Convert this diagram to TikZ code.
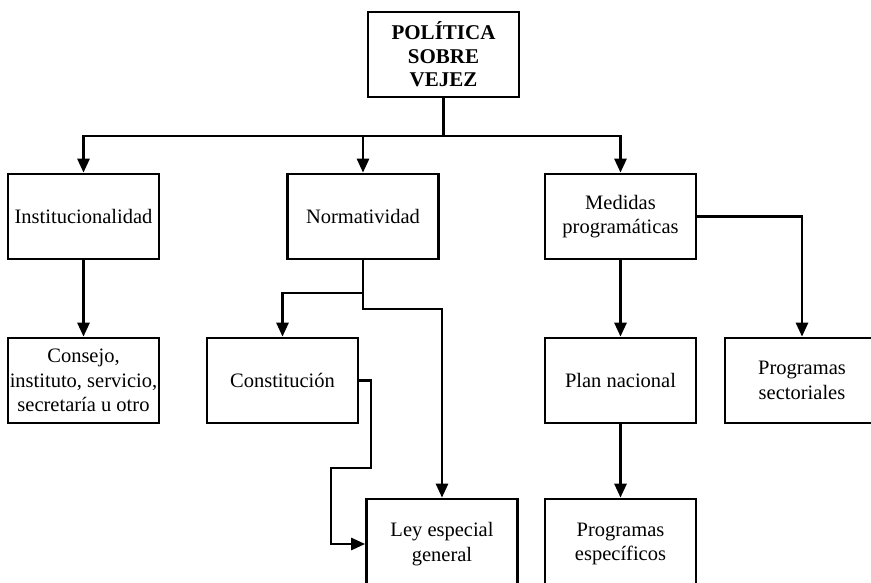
\documentclass[tikz,border=0pt]{standalone}
\usepackage{fontspec}
\setmainfont{Liberation Serif}
\usetikzlibrary{arrows.meta,positioning}

\begin{document}
\begin{tikzpicture}[x=1pt, y=-1pt, >={Triangle[length=14pt,width=12pt]}, line width=2.7pt, node distance=164pt,
    box/.style={draw, rectangle, align=center, inner sep=0pt, minimum width=151pt, minimum height=85pt,
                font=\fontsize{20.5}{24.5}\selectfont},
    lowbox/.style={box, minimum height=90pt}]
    \useasboundingbox (0,0) rectangle (871,583);
    \clip (0,0) rectangle (871,583);

    % Nodes {top level, second level, lower boxes}
    \node [box, font=\bfseries\fontsize{21}{23.5}\selectfont] (pol) at (443.5,54.5) {POLÍTICA\\SOBRE\\VEJEZ};
    \node [box]                      (inst)  at (83.5,216.5)   {Institucionalidad};
    \node [box]                      (norm)  at (363,216.5)    {Normatividad};
    \node [box]                      (med)   at (620.5,216.5)  {Medidas\\programáticas};
    \node [box]                      (cons)  [below of=inst]   {Consejo,\\instituto, servicio,\\secretaría u otro};
    \node [box]                      (const) at (282.5,380.5)  {Constitución};
    \node [box]                      (plan)  [below of=med]    {Plan nacional};
    \node [box, minimum width=154pt] (sect)  at (802,380.5)    {Programas\\sectoriales};
    \node [lowbox]                   (ley)   at (442,544)      {Ley especial\\general};
    \node [lowbox]                   (esp)   at (620.5,544)    {Programas\\específicos};

    % Corners of the connectors
    \coordinate (bus)   at (443.5,136);
    \coordinate (split) at (363,293);
    \coordinate (lstep) at (363,309);
    \coordinate (c1)    at (371,468);
    \coordinate (c2)    at (331,468);

    % Paths
    \draw [->] (pol.south) -- (bus) -| (inst.north);
    \draw [->] (bus) -| (norm.north);
    \draw [->] (bus) -| (med.north);
    \draw [->] (inst.south) -- (cons.north);
    \draw [->] (norm.south) -- (split) -| (const.north);
    \draw [->] (split) -- (lstep) -| (ley.north);
    \draw [->] (const.east) -| (c1) -- (c2) |- (ley.west);
    \draw [->] (med.south) -- (plan.north);
    \draw [->] (med.east) -| (sect.north);
    \draw [->] (plan.south) -- (esp.north);

\end{tikzpicture}
\end{document}
